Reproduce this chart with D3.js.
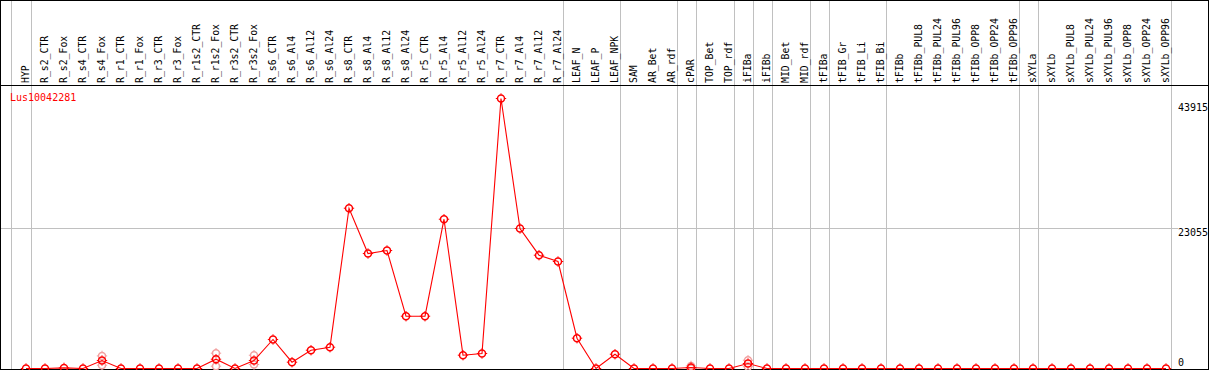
<!DOCTYPE html>
<html>
<head>
<meta charset="utf-8">
<script src="https://cdn.jsdelivr.net/npm/d3@7"></script>
<style>
  body { margin: 0; background: #fff; }
  text { font-family: "DejaVu Sans Mono", monospace; }
</style>
</head>
<body>
<svg id="chart" width="1209" height="370"></svg>
<script>
const geneName = 'Lus10042281';

const categories = [
  'HYP', 'R_s2_CTR', 'R_s2_Fox', 'R_s4_CTR', 'R_s4_Fox', 'R_r1_CTR', 'R_r1_Fox',
  'R_r3_CTR', 'R_r3_Fox', 'R_r1s2_CTR', 'R_r1s2_Fox', 'R_r3s2_CTR', 'R_r3s2_Fox',
  'R_s6_CTR', 'R_s6_Al4', 'R_s6_Al12', 'R_s6_Al24', 'R_s8_CTR', 'R_s8_Al4',
  'R_s8_Al12', 'R_s8_Al24', 'R_r5_CTR', 'R_r5_Al4', 'R_r5_Al12', 'R_r5_Al24',
  'R_r7_CTR', 'R_r7_Al4', 'R_r7_Al12', 'R_r7_Al24', 'LEAF_N', 'LEAF_P', 'LEAF_NPK',
  'SAM', 'AR_Bet', 'AR_rdf', 'cPAR', 'TOP_Bet', 'TOP_rdf', 'iFIBa', 'iFIBb',
  'MID_Bet', 'MID_rdf', 'tFIBa', 'tFIB_Gr', 'tFIB_Li', 'tFIB_Bi', 'tFIBb',
  'tFIBb_PUL8', 'tFIBb_PUL24', 'tFIBb_PUL96', 'tFIBb_OPP8', 'tFIBb_OPP24', 'tFIBb_OPP96',
  'sXYLa', 'sXYLb', 'sXYLb_PUL8', 'sXYLb_PUL24', 'sXYLb_PUL96', 'sXYLb_OPP8',
  'sXYLb_OPP24', 'sXYLb_OPP96'
];

// mean expression per sample
const values = [
  0, 0, 100, 0, 1300, 0, 0,
  0, 0, 0, 1510, 0, 1300,
  4720, 1025, 2975, 3465, 26070, 18700,
  19190, 8505, 8505, 24280, 2165, 2440,
  43915, 22770, 18430, 17400, 4930, 0, 2325,
  0, 0, 0, 160, 0, 0, 813, 0,
  0, 0, 0, 0, 0, 0, 0,
  0, 0, 0, 0, 0, 0,
  0, 0, 0, 0, 0, 0,
  0, 0
];

// individual replicates, shown faintly: [sample, low, high]
const replicates = [
  ['R_s4_Fox', 540, 2050],
  ['R_r1s2_Fox', 375, 2490],
  ['R_r3s2_Fox', 650, 2160],
  ['cPAR', 0, 420],
  ['iFIBa', 290, 1350]
];

// group separators: drawn after these samples
const separators = ['HYP', 'R_r7_Al24', 'LEAF_NPK', 'AR_rdf', 'cPAR', 'TOP_rdf', 'iFIBa',
  'iFIBb', 'MID_rdf', 'tFIBa', 'tFIB_Bi', 'tFIBb_OPP96', 'sXYLa', 'sXYLb_OPP96'];

const yTicks = [0, 23055, 43915];

const W = 1209, H = 370;
const svg = d3.select('#chart');

const x = d3.scalePoint().domain(categories).range([26, 1166]);
const y = d3.scaleLinear().domain([0, 43915]).range([368.5, 98.5]);

// frame lines
const grid = svg.append('g').attr('shape-rendering', 'crispEdges');
grid.append('line')
  .attr('x1', 11.5).attr('x2', 11.5).attr('y1', 0).attr('y2', H)
  .attr('stroke', '#c0c0c0');
grid.selectAll('.sep')
  .data(separators)
  .enter().append('line')
  .attr('class', 'sep')
  .attr('x1', (d) => Math.round(x(d) + 4.7) + 0.5)
  .attr('x2', (d) => Math.round(x(d) + 4.7) + 0.5)
  .attr('y1', 0).attr('y2', H)
  .attr('stroke', '#c0c0c0');
grid.append('line')
  .attr('x1', 0).attr('x2', 1178)
  .attr('y1', Math.round(y(23055)) + 1.5).attr('y2', Math.round(y(23055)) + 1.5)
  .attr('stroke', '#c0c0c0');

grid.append('rect')
  .attr('x', 0.5).attr('y', 0.5)
  .attr('width', 1208).attr('height', 369)
  .attr('fill', 'none').attr('stroke', '#000');
grid.append('line')
  .attr('x1', 0).attr('x2', 1209).attr('y1', 85.5).attr('y2', 85.5)
  .attr('stroke', '#000');

// sample labels
svg.append('g')
  .selectAll('text')
  .data(categories)
  .enter().append('text')
  .attr('transform', (d) => `translate(${x(d) + 3},83) rotate(-90)`)
  .attr('font-size', 9.8)
  .attr('fill', '#000')
  .text((d) => d);

// y labels
svg.append('g')
  .selectAll('text')
  .data(yTicks)
  .enter().append('text')
  .attr('x', 1178)
  .attr('y', (d) => Math.max(111, Math.min(366, y(d) + 9)))
  .attr('font-size', 10)
  .attr('fill', '#000')
  .text((d) => d);

svg.append('text')
  .attr('x', 10).attr('y', 100.5)
  .attr('font-size', 10)
  .attr('fill', 'red')
  .text(geneName);

function marker(g, color) {
  g.append('circle').attr('r', 3.5)
    .attr('fill', 'none').attr('stroke', color).attr('stroke-width', 1.5);
  [[0, -1], [0, 1], [-1, 0], [1, 0]].forEach(([dx, dy]) => {
    g.append('line')
      .attr('x1', dx * 3.8).attr('y1', dy * 3.8)
      .attr('x2', dx * 5.2).attr('y2', dy * 5.2)
      .attr('stroke', color).attr('stroke-width', 1);
  });
}

// replicates
const repPts = [];
replicates.forEach(([c, lo, hi]) => { repPts.push([c, lo], [c, hi]); });
svg.append('g')
  .selectAll('g')
  .data(repPts)
  .enter().append('g')
  .attr('transform', (d) => `translate(${x(d[0])},${y(d[1])})`)
  .each(function () { marker(d3.select(this), '#f2a0a0'); });

// series line
const line = d3.line()
  .x((d, i) => x(categories[i]))
  .y((d) => y(d));
svg.append('path')
  .datum(values)
  .attr('d', line)
  .attr('fill', 'none')
  .attr('stroke', 'red')
  .attr('stroke-width', 1.1);

svg.append('g')
  .selectAll('g')
  .data(values)
  .enter().append('g')
  .attr('transform', (d, i) => `translate(${x(categories[i])},${y(d)})`)
  .each(function () { marker(d3.select(this), 'red'); });
</script>
</body>
</html>
